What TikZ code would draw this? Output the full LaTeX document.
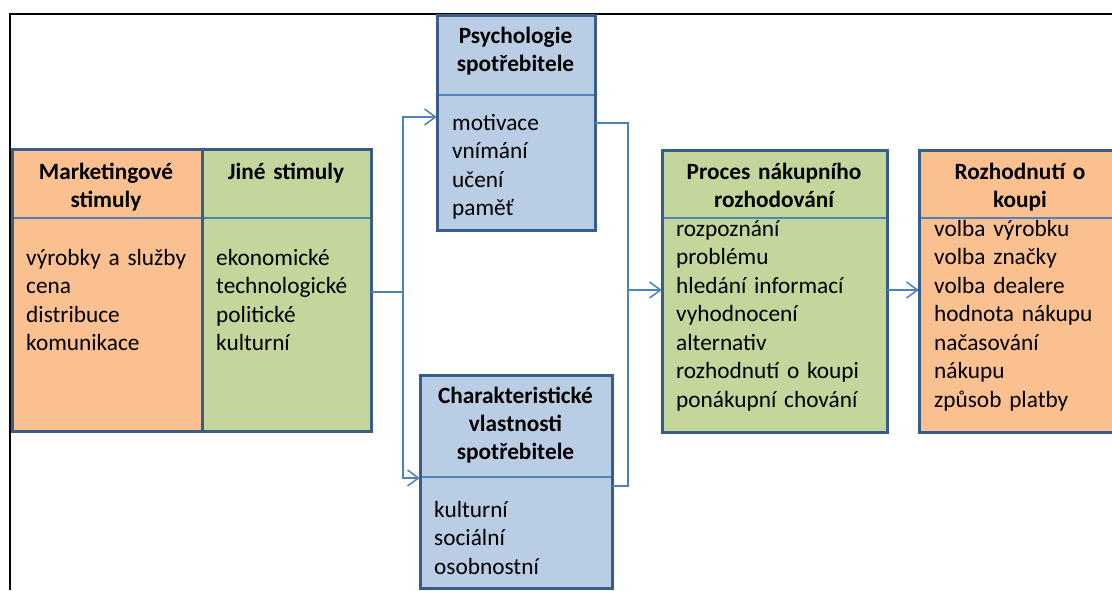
\documentclass[tikz,border=0pt]{standalone}
\usepackage{fontspec}
\setmainfont{Carlito}
\usetikzlibrary{arrows.meta}
\definecolor{orangeF}{RGB}{250,192,144}
\definecolor{greenF}{RGB}{195,214,155}
\definecolor{blueF}{RGB}{185,205,229}
\definecolor{borderC}{RGB}{56,93,138}
\definecolor{lineC}{RGB}{79,129,189}
\tikzset{
  box/.style={draw=borderC, line width=3pt, rectangle, inner sep=0pt},
  divline/.style={draw=lineC, line width=2pt},
  conn/.style={draw=lineC, line width=1.5pt},
  arr/.style={conn, -{Straight Barb[length=11pt,width=16pt,line width=1.5pt]}},
  head/.style={font=\fontsize{23.3}{28}\selectfont\bfseries, align=center, anchor=base, inner sep=0pt, text width=230pt},
  body/.style={font=\fontsize{23.3}{28.5}\selectfont, align=left, anchor=base west, inner sep=0pt, text width=200pt},
}
\begin{document}
\begin{tikzpicture}[x=1pt,y=-1pt]
\clip (0,0) rectangle (1112,590);
\fill[white] (0,0) rectangle (1112,590);
% frame
\draw[black, line width=2.5pt] (9,14) -- (1112,14);
\draw[black, line width=2pt] (10,14) -- (10,590);

% boxes
\path[box, fill=orangeF] (12,149) rectangle (202,431);
\node[inner sep=0pt, minimum width=190pt, minimum height=282pt] (mk) at (107,290) {};
\path[box, fill=greenF] (202,149) rectangle (371,431);
\node[inner sep=0pt, minimum width=169pt, minimum height=282pt] (ji) at (286.5,290) {};
\path[box, fill=blueF] (437,15) rectangle (595,230);
\node[inner sep=0pt, minimum width=158pt, minimum height=215pt] (psy) at (516,122.5) {};
\path[box, fill=blueF] (420,375) rectangle (612,588);
\node[inner sep=0pt, minimum width=192pt, minimum height=213pt] (cha) at (516,481.5) {};
\path[box, fill=greenF] (662,150) rectangle (887,432);
\node[inner sep=0pt, minimum width=225pt, minimum height=282pt] (pro) at (774.5,291) {};
\path[box, fill=orangeF] (919,150) rectangle (1125,432);
\node[inner sep=0pt, minimum width=206pt, minimum height=282pt] (roz) at (1022,291) {};

% header dividers
\draw[divline] (13.5,218) -- (369.5,218);
\draw[divline] (438.5,95) -- (593.5,95);
\draw[divline] (421.5,477) -- (610.5,477);
\draw[divline] (663.5,218) -- (885.5,218);
\draw[divline] (920.5,218) -- (1112,218);
% redraw middle border
\draw[borderC, line width=3pt] (202,149) -- (202,431);

% headers
\node[head] (hmk) at (106,179.5) {Marketingové\\stimuly};
\node[head] (hji) at (286,179.5) {Jiné stimuly};
\node[head] (hpsy) at (515.5,43.5) {Psychologie\\spotřebitele};
\node[head] (hcha) at (515.5,403.5) {Charakteristické\\vlastnosti\\spotřebitele};
\node[head] (hpro) at (774,179.5) {Proces nákupního\\rozhodování};
\node[head] (hroz) at (1020,179.5) {Rozhodnutí o\\koupi};

% bodies
\node[body] (bmk) at (26,265) {výrobky a služby\\cena\\distribuce\\komunikace};
\node[body] (bji) at (216,265) {ekonomické\\technologické\\politické\\kulturní};
\node[body] (bpsy) at (452,130) {motivace\\vnímání\\učení\\paměť};
\node[body] (bcha) at (434,517) {kulturní\\sociální\\osobnostní};
\node[body] (bpro) at (676,236) {rozpoznání\\problému\\hledání informací\\vyhodnocení\\alternativ\\rozhodnutí o koupi\\ponákupní chování};
\node[body] (broz) at (934,236) {volba výrobku\\volba značky\\volba dealere\\hodnota nákupu\\načasování\\nákupu\\způsob platby};

% connectors
\coordinate (split) at (403,292);
\coordinate (join) at (628,290);
\draw[conn] (ji.east |- split) -- (split);
\draw[arr] (split) |- (psy.west |- 0,117);
\draw[arr] (split) |- (cha.west |- 0,478);
\draw[conn] (psy.east |- 0,123) -| (join);
\draw[conn] (cha.east |- 0,486) -| (join);
\draw[arr] (join) -- (pro.west |- join);
\draw[arr] (pro.east |- join) -- (roz.west |- join);
\end{tikzpicture}
\end{document}
